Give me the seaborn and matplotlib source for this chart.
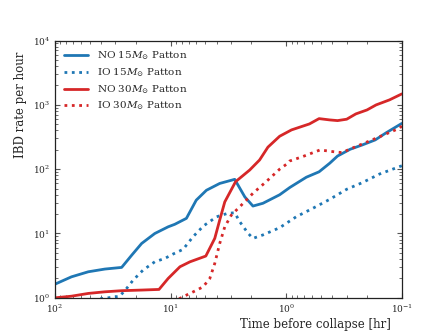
import numpy as np
import pandas as pd
import seaborn as sns
import matplotlib
matplotlib.use("Agg")
import matplotlib.pyplot as plt

# values (time before collapse [hr], IBD rate per hour)
t_no15 = [100, 72, 51.5, 37, 26.5, 21.7, 17.8, 13.7, 10.5, 9.2, 7.3, 6.0, 4.9, 3.76,
          2.79, 2.28, 1.94, 1.59, 1.14, 0.93, 0.67, 0.52, 0.42, 0.36, 0.28, 0.22,
          0.17, 0.136, 0.1]
r_no15 = [1.63, 2.12, 2.54, 2.8, 2.97, 4.6, 7.0, 10.0, 12.7, 13.9, 17.2, 33, 47, 60,
          69.5, 37, 26.7, 29.5, 40, 52, 75, 91, 124, 160, 204, 238, 285, 370, 515]

t_io15 = [100, 60, 40, 34.7, 27.5, 24, 21.1, 17.3, 13.7, 11.2, 9.5, 7.8, 6.4, 5.2,
          4.0, 3.2, 2.79, 2.52, 2.14, 1.94, 1.59, 1.14, 0.82, 0.59, 0.42, 0.30,
          0.22, 0.156, 0.1]
r_io15 = [0.6, 0.85, 0.97, 1.0, 1.06, 1.4, 1.88, 2.7, 3.63, 4.1, 4.8, 5.67, 8.9, 13.1,
          18.2, 20.6, 21.0, 15.2, 10.1, 8.4, 9.5, 12.3, 18.2, 24.6, 34, 48.7,
          61.7, 84, 113]

t_no30 = [100, 72, 51.5, 37, 26.5, 17.8, 12.6, 10.5, 8.3, 6.8, 4.96, 4.15, 3.76, 3.40,
          2.74, 2.07, 1.70, 1.44, 1.14, 0.9, 0.63, 0.52, 0.42, 0.36, 0.30, 0.25,
          0.20, 0.167, 0.128, 0.1]
r_no30 = [1.0, 1.06, 1.17, 1.24, 1.29, 1.32, 1.35, 2.0, 3.04, 3.63, 4.46, 8.4, 16.2, 31,
          64, 97, 139, 220, 325, 408, 505, 611, 583, 569, 598, 723, 834, 998,
          1194, 1480]

t_io30 = [10, 8.3, 7.8, 6.6, 5.24, 4.58, 4.15, 3.76, 3.40, 2.98, 2.52, 1.94, 1.49,
          1.14, 0.966, 0.933, 0.72, 0.51, 0.39, 0.33, 0.25, 0.167, 0.105, 0.1]
r_io30 = [0.8, 0.98, 1.04, 1.2, 1.48, 2.0, 3.43, 7.0, 12.7, 19.4, 26.1, 42.2, 64,
          100, 124, 134, 157, 199, 187, 181, 224, 303, 433, 470]

labels = [r"NO 15$M_{\odot}$ Patton", r"IO 15$M_{\odot}$ Patton",
          r"NO 30$M_{\odot}$ Patton", r"IO 30$M_{\odot}$ Patton"]

sns.set_style("ticks")
plt.rcParams['font.family'] = ['DejaVu Serif']
plt.rcParams['mathtext.fontset'] = 'dejavuserif'
plt.rcParams['xtick.direction'] = 'in'
plt.rcParams['ytick.direction'] = 'in'

fig = plt.figure(figsize=(4.47, 3.35), dpi=100)
ax = fig.add_axes([0.123, 0.111, 0.776, 0.768])

blue = '#1f77b4'
red = '#d62728'
series = [(t_no15, r_no15, blue, '-'), (t_io15, r_io15, blue, ':'),
          (t_no30, r_no30, red, '-'), (t_io30, r_io30, red, ':')]
for (t, r, c, ls), lab in zip(series, labels):
    sns.lineplot(x=t, y=r, ax=ax, color=c, linestyle=ls, linewidth=2, label=lab)

ax.set_xscale('log')
ax.set_yscale('log')
ax.set_xlim(100, 0.1)
ax.set_ylim(1, 1e4)

ax.tick_params(which='both', top=True, right=True, direction='in',
               labelsize=6.5, color='#555555')
ax.tick_params(which='major', length=3.5)
ax.tick_params(which='minor', length=2)
for s in ax.spines.values():
    s.set_color('#222222')
    s.set_linewidth(0.9)

ax.set_xlabel('Time before collapse [hr]', fontsize=8.5)
ax.set_ylabel('IBD rate per hour', fontsize=8.5)
ax.xaxis.set_label_coords(0.752, -0.078)
ax.yaxis.set_label_coords(-0.08, 0.752)

ax.legend(loc='upper left', frameon=False, fontsize=7.5, handlelength=2.3,
          labelspacing=0.4, borderaxespad=0.5)

fig.savefig('out.png', dpi=100)
